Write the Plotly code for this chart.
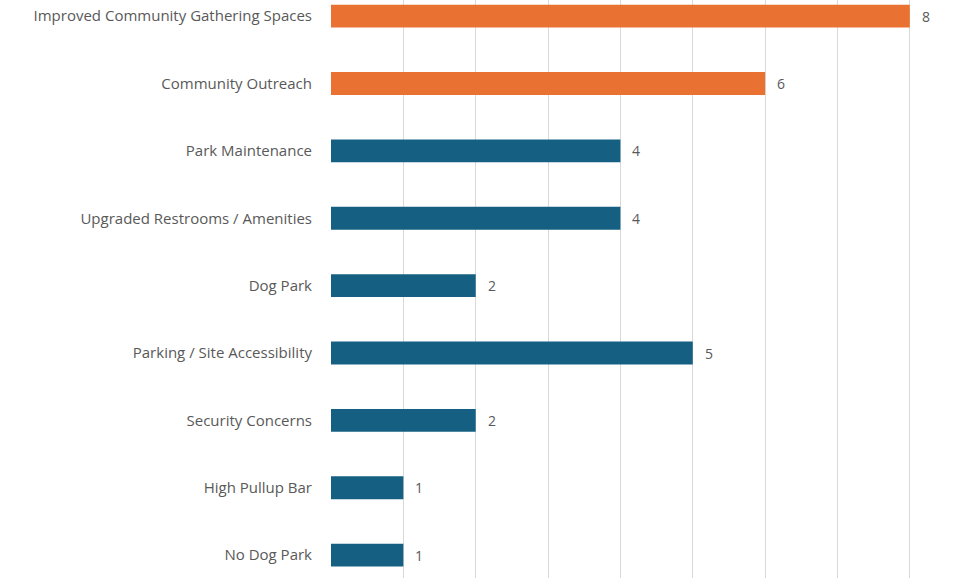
import plotly.graph_objects as go

# ── Data ──────────────────────────────────────────────────────────────────────

categories = [
    "Improved Community Gathering Spaces",
    "Community Outreach",
    "Park Maintenance",
    "Upgraded Restrooms / Amenities",
    "Dog Park",
    "Parking / Site Accessibility",
    "Security Concerns",
    "High Pullup Bar",
    "No Dog Park",
]
counts = [8, 6, 4, 4, 2, 5, 2, 1, 1]
highlighted = [True, True, False, False, False, False, False, False, False]

_ORANGE = "#E97132"
_BLUE = "#156082"
_TEXT = "#595959"
_GRID = "#d9d9d9"
_FONT = "Open Sans, Lato, sans-serif"

colors = [_ORANGE if h else _BLUE for h in highlighted]

fig = go.Figure(
    go.Bar(
        x=counts,
        y=categories,
        orientation="h",
        marker=dict(color=colors, line=dict(width=0)),
        width=0.34,
        hoverinfo="x+y",
    )
)

# value labels to the right of each bar
for cat, val in zip(categories, counts):
    fig.add_annotation(
        x=val, y=cat, text=str(val),
        xanchor="left", yanchor="middle", xshift=10,
        showarrow=False,
        font=dict(family=_FONT, size=14, color=_TEXT),
    )

fig.update_layout(
    width=958,
    height=578,
    margin=dict(l=331, r=46, t=0, b=0),
    plot_bgcolor="white",
    paper_bgcolor="white",
    showlegend=False,
    font=dict(family=_FONT, size=15, color=_TEXT),
)
# small pad past 8 so the last gridline stays visible
fig.update_xaxes(
    range=[0, 8.03],
    dtick=1,
    showgrid=True,
    gridcolor=_GRID,
    gridwidth=1,
    zeroline=False,
    showticklabels=False,
    showline=False,
)
fig.update_yaxes(
    categoryorder="array",
    categoryarray=categories,
    range=[len(categories) - 1 + 0.34, -0.24],
    showgrid=False,
    zeroline=False,
    showline=False,
    ticks="",
    ticklabelstandoff=18,
    tickfont=dict(family=_FONT, size=15, color=_TEXT),
)

# page body has a default 8px margin; drop it so the figure sits at 0,0
fig.write_html(
    "out.html",
    config={"displayModeBar": False},
    post_script="document.body.style.margin='0';",
)
